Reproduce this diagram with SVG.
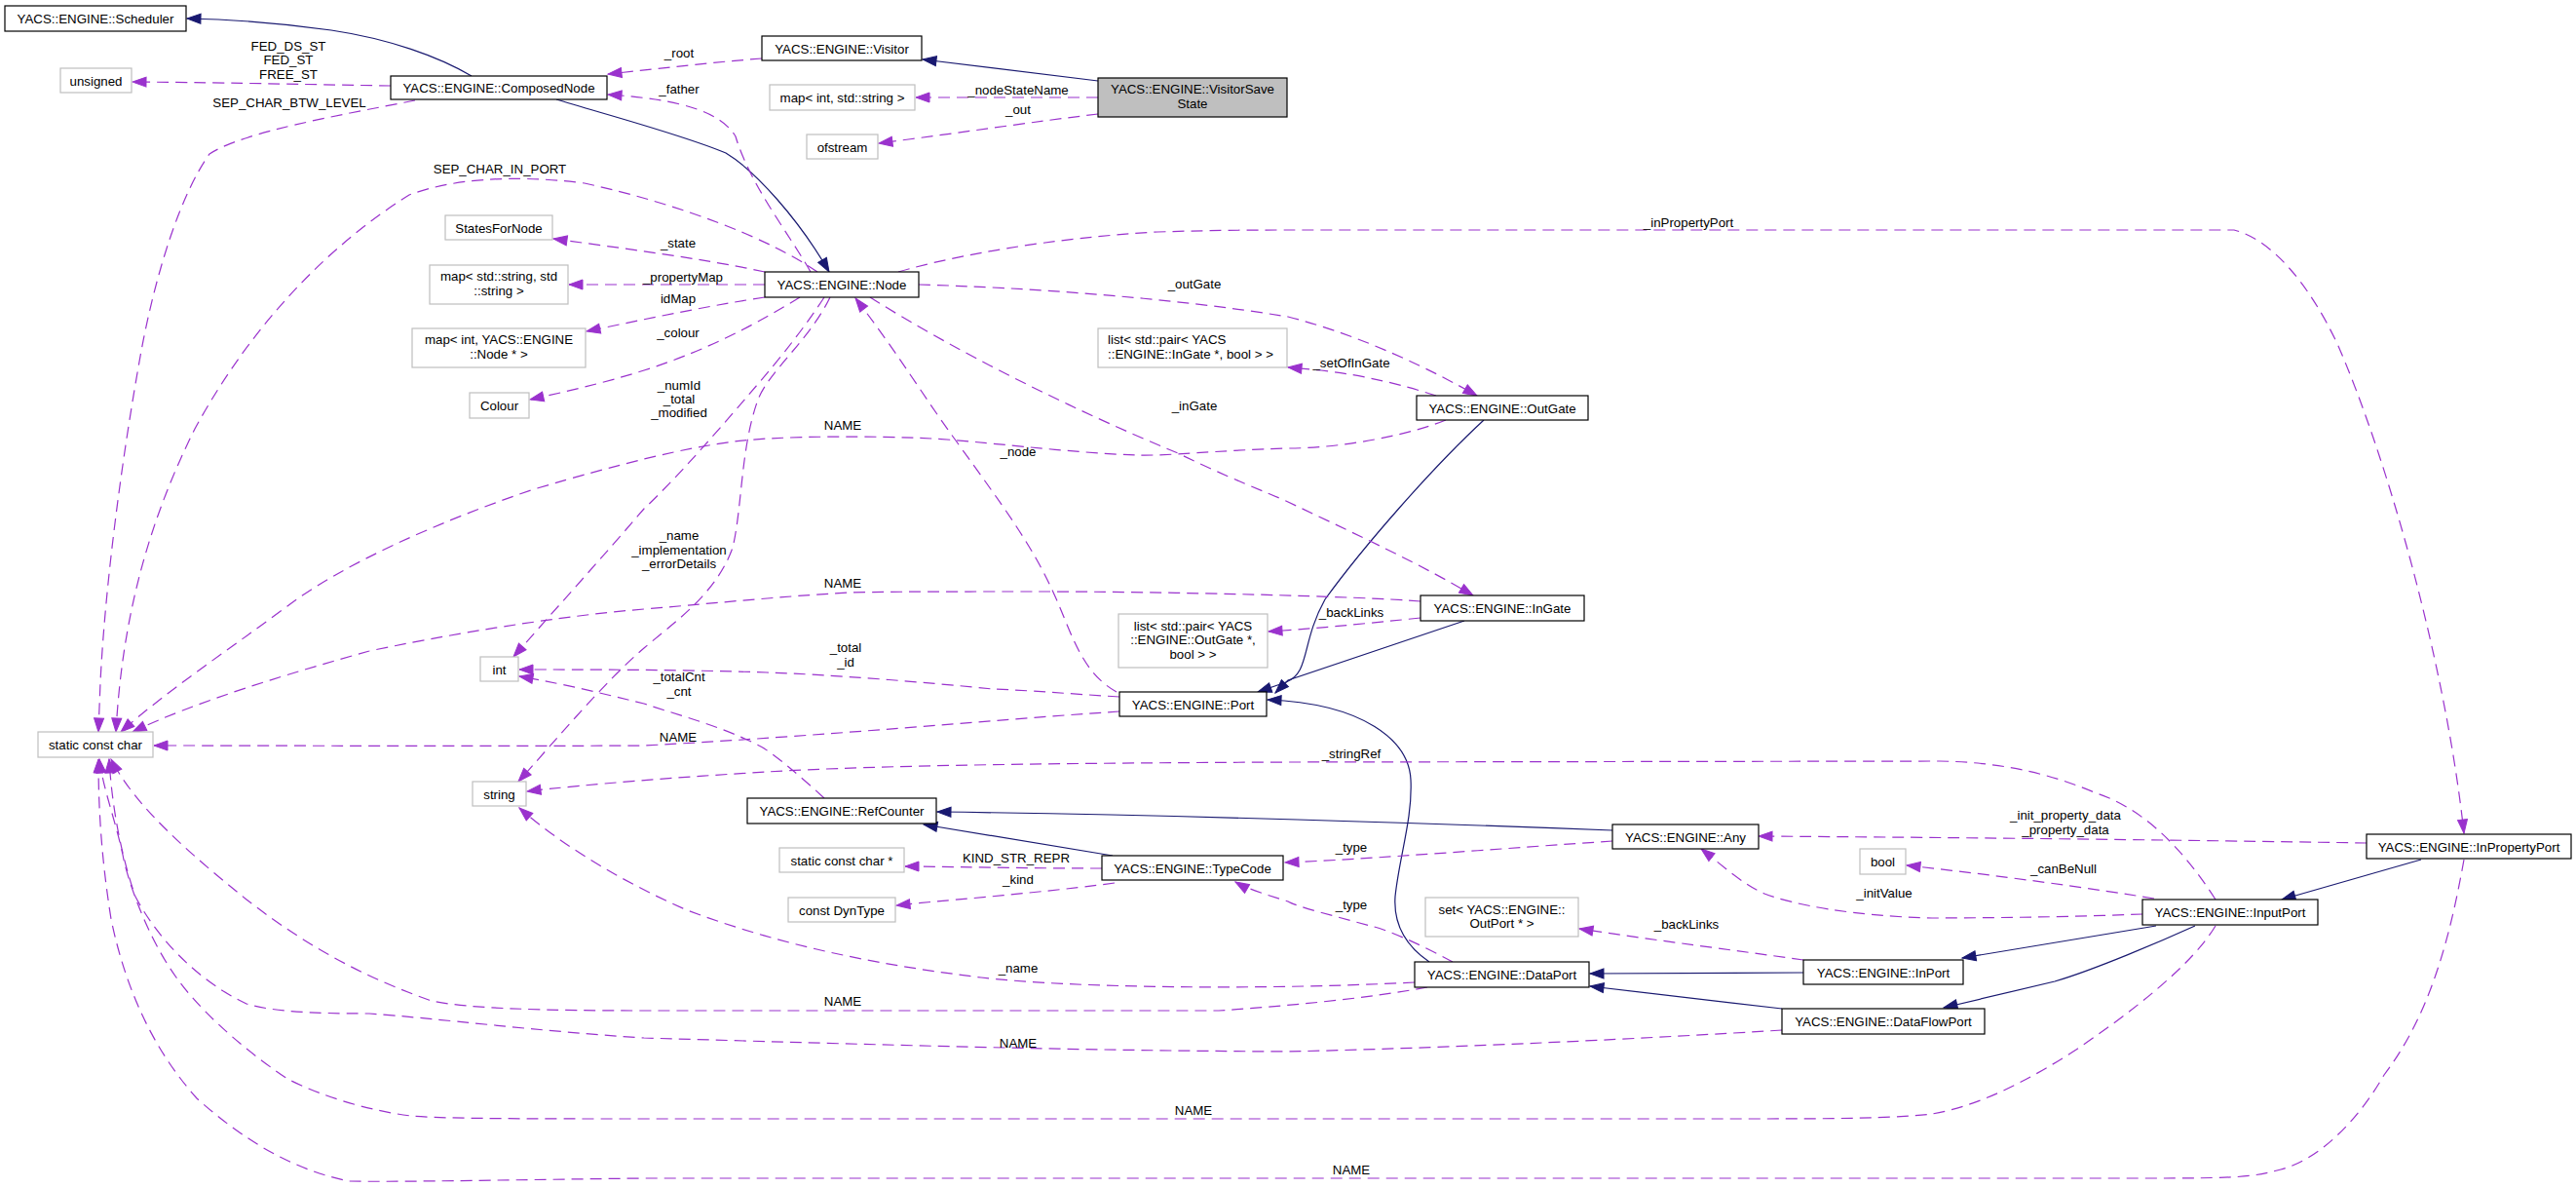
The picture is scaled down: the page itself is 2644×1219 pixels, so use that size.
<svg xmlns="http://www.w3.org/2000/svg" width="2644" height="1219" viewBox="0 0 2644 1219">
<defs>
<style>
text{font-family:"Liberation Sans",Arial,Helvetica,sans-serif;font-size:13.3px;fill:#000;text-anchor:middle}
.n rect{fill:#fff;stroke:#000;stroke-width:1.2}
.g rect{fill:#fff;stroke:#bfbfbf;stroke-width:1.2}
.cur rect{fill:#bfbfbf;stroke:#000;stroke-width:1.2}
.u{fill:none;stroke:#9a32cd;stroke-width:1.2;stroke-dasharray:12,7;marker-end:url(#ap)}
.i{fill:none;stroke:#191970;stroke-width:1.2;marker-end:url(#ab)}
.l{text-anchor:start}
</style>
<marker id="ap" markerUnits="userSpaceOnUse" markerWidth="15" markerHeight="11" refX="14" refY="5" orient="auto" overflow="visible"><path d="M0,0 L14,5 L0,10 z" fill="#9a32cd" stroke="#9a32cd" stroke-width="1"/></marker>
<marker id="ab" markerUnits="userSpaceOnUse" markerWidth="15" markerHeight="11" refX="14" refY="5" orient="auto" overflow="visible"><path d="M0,0 L14,5 L0,10 z" fill="#191970" stroke="#191970" stroke-width="1"/></marker>
</defs>
<rect width="2644" height="1219" fill="#fff"/>

<g id="edges">
<!-- inheritance -->
<path class="i" d="M484,78 C450,58 400,40 340,31 C290,24 240,20 192,19"/>
<path class="i" d="M571,102 C620,117 700,138 745,157 C775,175 820,225 851,279"/>
<path class="i" d="M1127,83 L947,61"/>
<path class="i" d="M1523,431 C1470,480 1400,560 1360,615 C1335,660 1345,690 1320,700 L1291,710"/>
<path class="i" d="M1503,637 L1322,698 L1309,711"/>
<path class="i" d="M1467,987 C1445,972 1430,950 1432,920 C1436,880 1450,840 1448,800 C1446,760 1400,722 1301,718"/>
<path class="i" d="M1851,998 L1632,999"/>
<path class="i" d="M1829,1035 L1632,1012"/>
<path class="i" d="M2213,950 L2014,983"/>
<path class="i" d="M2253,950 C2220,965 2150,995 2109,1007 L1995,1034"/>
<path class="i" d="M2485,882 L2342,923"/>
<path class="i" d="M1655,852 C1500,846 1200,836 962,833"/>
<path class="i" d="M1142,878 L948,846"/>

<!-- usage -->
<path class="u" d="M782,60 C730,64 680,70 624,76"/>
<path class="u" d="M832,279 C810,240 770,190 755,140 C740,115 700,102 624,97"/>
<path class="u" d="M1127,100 L940,100"/>
<path class="u" d="M1127,117 C1060,125 980,137 902,147"/>
<path class="u" d="M401,88 C330,87 250,85 136,84"/>
<path class="u" d="M426,103 C350,118 250,135 215,158 C185,200 160,280 145,360 C125,470 108,600 103,700 L101,751"/>
<path class="u" d="M839,279 C790,245 700,210 600,188 C520,178 460,185 420,200 C340,250 260,330 200,440 C150,540 125,640 119,751"/>
<path class="u" d="M785,279 C720,265 640,255 568,245"/>
<path class="u" d="M785,292 L584,292"/>
<path class="u" d="M785,305 C720,315 660,328 602,340"/>
<path class="u" d="M821,305 C780,330 730,358 661,380 C620,393 580,402 544,410"/>
<path class="u" d="M846,305 C820,345 790,380 766,408 C730,450 690,495 661,522 C620,570 570,625 527,674"/>
<path class="u" d="M852,305 C830,350 790,380 778,410 C760,460 762,520 752,562 C735,610 690,640 661,665 C620,700 570,760 532,802"/>
<path class="u" d="M1484,431 C1450,445 1380,460 1322,460 C1250,462 1200,468 1167,467 C1100,465 1000,452 956,450 C900,447 800,447 754,453 C700,460 640,475 548,502 C450,535 350,580 295,622 C230,670 170,710 124,751"/>
<path class="u" d="M943,292 C1050,295 1200,305 1322,325 C1400,345 1470,380 1516,406"/>
<path class="u" d="M1474,406 C1440,395 1400,385 1356,380 L1322,377"/>
<path class="u" d="M893,305 C980,360 1100,420 1209,465 C1260,490 1300,505 1322,515 C1400,552 1460,580 1512,611"/>
<path class="u" d="M1458,617 C1400,612 1200,607 1066,607 C1000,607 900,607 872,608 C800,612 745,618 661,625 C600,630 500,643 379,668 C300,690 200,720 136,751"/>
<path class="u" d="M1458,634 C1400,640 1350,645 1302,648"/>
<path class="u" d="M1146,710 C1110,690 1100,650 1083,612 C1060,560 1030,520 981,452 C950,410 920,360 878,306"/>
<path class="u" d="M1149,715 C1100,712 1050,708 1019,707 C950,700 850,692 787,690 C700,687 600,687 533,687"/>
<path class="u" d="M1149,730 C1000,740 850,755 661,765 C500,766 300,765 158,765"/>
<path class="u" d="M846,819 C820,795 790,770 779,765 C740,745 700,735 661,722 C620,712 580,702 533,694"/>
<path class="u" d="M2274,923 C2240,870 2200,830 2152,814 C2100,792 2050,782 1991,781 L1322,782 C1100,783 900,785 787,792 C700,797 600,805 541,812"/>
<path class="u" d="M922,279 C980,262 1080,244 1188,238 C1250,236 1300,236 1322,236 L2293,236 C2330,245 2370,290 2400,355 C2450,470 2510,680 2529,855"/>
<path class="u" d="M1655,863 C1550,870 1400,882 1319,885"/>
<path class="u" d="M1491,987 C1460,970 1420,952 1406,950 C1370,940 1330,930 1322,925 C1300,918 1280,912 1268,905"/>
<path class="u" d="M1131,891 C1050,891 960,889 929,889"/>
<path class="u" d="M1144,906 C1100,912 1020,920 960,925 L920,929"/>
<path class="u" d="M1452,1008 C1300,1016 1100,1014 1007,1003 C900,990 800,970 703,933 C640,905 580,870 533,829"/>
<path class="u" d="M1465,1013 C1400,1025 1322,1032 1251,1037 L661,1037 C560,1037 480,1035 443,1027 C380,1005 320,975 253,923 C200,880 140,830 114,779"/>
<path class="u" d="M1829,1057 C1700,1065 1500,1075 1322,1079 C1100,1078 900,1072 661,1065 C550,1058 450,1045 379,1040 C320,1040 280,1038 253,1030 C200,1005 160,960 139,920 C125,880 115,830 112,779"/>
<path class="u" d="M2274,950 C2250,990 2190,1037 2131,1077 C2080,1110 2030,1135 1983,1143 C1950,1147 1900,1148 1800,1148 L661,1148 C550,1148 450,1148 422,1145 C380,1140 330,1125 295,1107 C240,1070 200,1030 181,1003 C150,960 130,900 126,877 C118,840 106,810 102,779"/>
<path class="u" d="M2529,882 C2515,960 2495,1040 2447,1103 C2420,1150 2380,1190 2341,1200 C2310,1208 2300,1209 2200,1209 L661,1209 C500,1211 400,1213 358,1212 C300,1200 250,1170 202,1127 C160,1080 130,1020 114,943 C104,880 101,830 101,779"/>
<path class="u" d="M1851,985 C1780,975 1700,965 1621,953"/>
<path class="u" d="M2211,922 C2150,912 2050,898 1957,888"/>
<path class="u" d="M2199,938 C2100,942 1983,942 1983,942 C1900,940 1840,928 1811,917 C1790,908 1770,890 1746,871"/>
<path class="u" d="M2429,865 C2300,863 2100,860 1805,858"/>

<!-- labels -->
<text x="697" y="59">_root</text>
<text x="697" y="96">_father</text>
<text x="1045" y="97">_nodeStateName</text>
<text x="1045" y="117">_out</text>
<text x="296" y="52">FED_DS_ST</text>
<text x="296" y="66">FED_ST</text>
<text x="296" y="81">FREE_ST</text>
<text x="297" y="110">SEP_CHAR_BTW_LEVEL</text>
<text x="513" y="178">SEP_CHAR_IN_PORT</text>
<text x="696" y="254">_state</text>
<text x="701" y="289">_propertyMap</text>
<text x="696" y="311">idMap</text>
<text x="696" y="346">_colour</text>
<text x="697" y="400">_numId</text>
<text x="697" y="414">_total</text>
<text x="697" y="428">_modified</text>
<text x="865" y="441">NAME</text>
<text x="1226" y="296">_outGate</text>
<text x="1387" y="377">_setOfInGate</text>
<text x="1226" y="421">_inGate</text>
<text x="1045" y="468">_node</text>
<text x="697" y="554">_name</text>
<text x="697" y="569">_implementation</text>
<text x="697" y="583">_errorDetails</text>
<text x="865" y="603">NAME</text>
<text x="1387" y="633">_backLinks</text>
<text x="868" y="669">_total</text>
<text x="868" y="684">_id</text>
<text x="697" y="699">_totalCnt</text>
<text x="697" y="714">_cnt</text>
<text x="696" y="761">NAME</text>
<text x="1387" y="778">_stringRef</text>
<text x="1733" y="233">_inPropertyPort</text>
<text x="2120" y="841">_init_property_data</text>
<text x="2120" y="856">_property_data</text>
<text x="2118" y="896">_canBeNull</text>
<text x="1387" y="874">_type</text>
<text x="1043" y="885">KIND_STR_REPR</text>
<text x="1045" y="907">_kind</text>
<text x="1934" y="921">_initValue</text>
<text x="1387" y="933">_type</text>
<text x="1731" y="953">_backLinks</text>
<text x="1045" y="998">_name</text>
<text x="865" y="1032">NAME</text>
<text x="1045" y="1075">NAME</text>
<text x="1225" y="1144">NAME</text>
<text x="1387" y="1205">NAME</text>
</g>

<g id="node-Scheduler" class="n"><rect x="5" y="6" width="186" height="26"/><text x="98" y="24">YACS::ENGINE::Scheduler</text></g>
<g id="node-unsigned" class="g"><rect x="62" y="70" width="73" height="25"/><text x="98.5" y="87.5">unsigned</text></g>
<g id="node-ComposedNode" class="n"><rect x="401" y="78" width="222" height="24"/><text x="512" y="95">YACS::ENGINE::ComposedNode</text></g>
<g id="node-Visitor" class="n"><rect x="782" y="37" width="164" height="25"/><text x="864" y="54.5">YACS::ENGINE::Visitor</text></g>
<g id="node-mapIntString" class="g"><rect x="790" y="87" width="149" height="26"/><text x="864.5" y="105">map&lt; int, std::string &gt;</text></g>
<g id="node-ofstream" class="g"><rect x="828" y="138" width="73" height="25"/><text x="864.5" y="155.5">ofstream</text></g>
<g id="node-VisitorSaveState" class="cur"><rect x="1127" y="80" width="194" height="40"/><text x="1224" y="96">YACS::ENGINE::VisitorSave</text><text x="1224" y="111">State</text></g>
<g id="node-StatesForNode" class="g"><rect x="457" y="221" width="110" height="25"/><text x="512" y="238.5">StatesForNode</text></g>
<g id="node-mapStringString" class="g"><rect x="441" y="272" width="142" height="40"/><text x="512" y="288">map&lt; std::string, std</text><text x="512" y="303">::string &gt;</text></g>
<g id="node-Node" class="n"><rect x="785" y="279" width="158" height="26"/><text x="864" y="297">YACS::ENGINE::Node</text></g>
<g id="node-mapIntNode" class="g"><rect x="423" y="337" width="178" height="40"/><text x="512" y="353">map&lt; int, YACS::ENGINE</text><text x="512" y="368">::Node * &gt;</text></g>
<g id="node-listInGate" class="g"><rect x="1127" y="337" width="194" height="40"/><text class="l" x="1137" y="353">list&lt; std::pair&lt; YACS</text><text class="l" x="1137" y="368">::ENGINE::InGate *, bool &gt; &gt;</text></g>
<g id="node-Colour" class="g"><rect x="482" y="403" width="61" height="26"/><text x="512.5" y="421">Colour</text></g>
<g id="node-OutGate" class="n"><rect x="1454" y="406" width="176" height="25"/><text x="1542" y="423.5">YACS::ENGINE::OutGate</text></g>
<g id="node-InGate" class="n"><rect x="1458" y="611" width="168" height="26"/><text x="1542" y="629">YACS::ENGINE::InGate</text></g>
<g id="node-listOutGate" class="g"><rect x="1148" y="630" width="153" height="55"/><text x="1224.5" y="647">list&lt; std::pair&lt; YACS</text><text x="1224.5" y="661">::ENGINE::OutGate *,</text><text x="1224.5" y="676">bool &gt; &gt;</text></g>
<g id="node-int" class="g"><rect x="493" y="674" width="39" height="25"/><text x="512.5" y="691.5">int</text></g>
<g id="node-Port" class="n"><rect x="1149" y="710" width="151" height="25"/><text x="1224.5" y="727.5">YACS::ENGINE::Port</text></g>
<g id="node-staticConstChar" class="g"><rect x="39" y="751" width="118" height="26"/><text x="98" y="769">static const char</text></g>
<g id="node-string" class="g"><rect x="485" y="802" width="55" height="25"/><text x="512.5" y="819.5">string</text></g>
<g id="node-RefCounter" class="n"><rect x="767" y="819" width="194" height="26"/><text x="864" y="837">YACS::ENGINE::RefCounter</text></g>
<g id="node-Any" class="n"><rect x="1655" y="846" width="150" height="25"/><text x="1730" y="863.5">YACS::ENGINE::Any</text></g>
<g id="node-InPropertyPort" class="n"><rect x="2429" y="856" width="210" height="25"/><text x="2534" y="873.5">YACS::ENGINE::InPropertyPort</text></g>
<g id="node-staticConstCharPtr" class="g"><rect x="800" y="870" width="128" height="25"/><text x="864" y="887.5">static const char *</text></g>
<g id="node-TypeCode" class="n"><rect x="1131" y="878" width="186" height="25"/><text x="1224" y="895.5">YACS::ENGINE::TypeCode</text></g>
<g id="node-bool" class="g"><rect x="1909" y="871" width="47" height="26"/><text x="1932.5" y="889">bool</text></g>
<g id="node-constDynType" class="g"><rect x="809" y="921" width="110" height="25"/><text x="864" y="938.5">const DynType</text></g>
<g id="node-setOutPort" class="g"><rect x="1463" y="921" width="157" height="40"/><text x="1541.5" y="938">set&lt; YACS::ENGINE::</text><text x="1541.5" y="952">OutPort * &gt;</text></g>
<g id="node-InputPort" class="n"><rect x="2199" y="923" width="180" height="26"/><text x="2289" y="941">YACS::ENGINE::InputPort</text></g>
<g id="node-InPort" class="n"><rect x="1851" y="985" width="164" height="25"/><text x="1933" y="1002.5">YACS::ENGINE::InPort</text></g>
<g id="node-DataPort" class="n"><rect x="1452" y="987" width="179" height="26"/><text x="1541.5" y="1005">YACS::ENGINE::DataPort</text></g>
<g id="node-DataFlowPort" class="n"><rect x="1829" y="1035" width="208" height="26"/><text x="1933" y="1053">YACS::ENGINE::DataFlowPort</text></g>
</svg>
